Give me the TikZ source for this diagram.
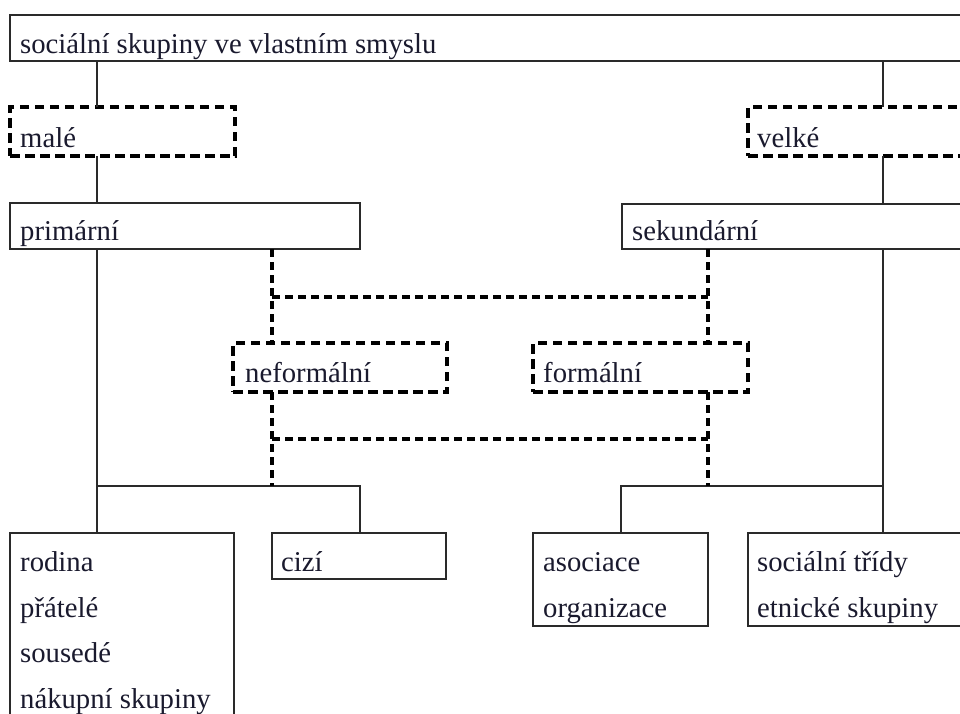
\documentclass[tikz,border=0pt]{standalone}
\usepackage{fontspec}
\setmainfont{Liberation Serif}
\begin{document}
\begin{tikzpicture}[x=1pt,y=-1pt,
  box/.style={draw=linec, line width=1.5pt, rectangle, inner sep=0pt, outer sep=0pt, anchor=north west},
  dbox/.style={draw=black, line width=3.2pt, dash pattern=on 9.5pt off 5.5pt, rectangle, inner sep=0pt, outer sep=0pt, anchor=north west},
  txt/.style={anchor=base west, inner sep=0pt, text=textc, font=\fontsize{28.7}{30}\selectfont},
  conn/.style={draw=linec, line width=1.5pt},
  dconn/.style={draw=black, line width=3.6pt, dash pattern=on 8pt off 5pt}
]
\definecolor{linec}{HTML}{2A2A2A}
\definecolor{textc}{HTML}{1A1A2E}
\useasboundingbox (0,0) rectangle (960,713);
\fill[white] (0,0) rectangle (960,713);
\clip (0,0) rectangle (960,713);

% boxes
\node[box, minimum width=1000pt, minimum height=46pt] (top) at (10,15) {};
\node[dbox, minimum width=225pt, minimum height=49pt] (male) at (10,107) {};
\node[dbox, minimum width=260pt, minimum height=49pt] (velke) at (748,107) {};
\node[box, minimum width=350pt, minimum height=46pt] (prim) at (10,203) {};
\node[box, minimum width=360pt, minimum height=45pt] (sek) at (622,204) {};
\node[dbox, minimum width=214pt, minimum height=49pt] (neform) at (233,343) {};
\node[dbox, minimum width=215pt, minimum height=49pt] (form) at (533,343) {};
\node[box, minimum width=224pt, minimum height=230pt] (rodina) at (10,533) {};
\node[box, minimum width=174pt, minimum height=46pt] (cizi) at (272,533) {};
\node[box, minimum width=175pt, minimum height=93pt] (asoc) at (533,533) {};
\node[box, minimum width=260pt, minimum height=93pt] (tridy) at (748,533) {};

% texts
\node[txt] (t1) at (20,53) {sociální skupiny ve vlastním smyslu};
\node[txt] (t2) at (20,147) {malé};
\node[txt] (t3) at (757,147) {velké};
\node[txt] (t4) at (20,240) {primární};
\node[txt] (t5) at (632,240) {sekundární};
\node[txt] (t6) at (245,382) {neformální};
\node[txt] (t7) at (543,382) {formální};
\node[txt] (t8) at (20,571) {rodina};
\node[txt] (t9) at (20,617) {přátelé};
\node[txt] (t10) at (20,662) {sousedé};
\node[txt] (t11) at (20,708) {nákupní skupiny};
\node[txt] (t12) at (281,571) {cizí};
\node[txt] (t13) at (543,571) {asociace};
\node[txt] (t14) at (543,617) {organizace};
\node[txt] (t15) at (757,571) {sociální třídy};
\node[txt] (t16) at (757,617) {etnické skupiny};

% columns and rows
\coordinate (c1) at (97,0);
\coordinate (c2) at (272,0);
\coordinate (c3) at (360,0);
\coordinate (c4) at (621,0);
\coordinate (c5) at (708,0);
\coordinate (c6) at (883,0);
\coordinate (r1) at (0,297);
\coordinate (r2) at (0,439);
\coordinate (r3) at (0,486);

% solid connectors
\draw[conn] (c1 |- top.south) -- (c1 |- male.north);
\draw[conn] (c1 |- male.south) -- (c1 |- prim.north);
\draw[conn] (c6 |- top.south) -- (c6 |- velke.north);
\draw[conn] (c6 |- velke.south) -- (c6 |- sek.north);
\draw[conn] (c1 |- prim.south) -- (c1 |- rodina.north);
\draw[conn] (c1 |- r3) -- (c3 |- r3) -- (c3 |- cizi.north);
\draw[conn] (c6 |- sek.south) -- (c6 |- tridy.north);
\draw[conn] (c6 |- r3) -- (c4 |- r3) -- (c4 |- asoc.north);

% dashed connectors
\draw[dconn] (c2 |- prim.south) -- (c2 |- neform.north);
\draw[dconn] (c5 |- sek.south) -- (c5 |- form.north);
\draw[dconn] (c2 |- r1) -- (c5 |- r1);
\draw[dconn] (c2 |- neform.south) -- (c2 |- r3);
\draw[dconn] (c5 |- form.south) -- (c5 |- r3);
\draw[dconn] (c2 |- r2) -- (c5 |- r2);
\end{tikzpicture}
\end{document}
